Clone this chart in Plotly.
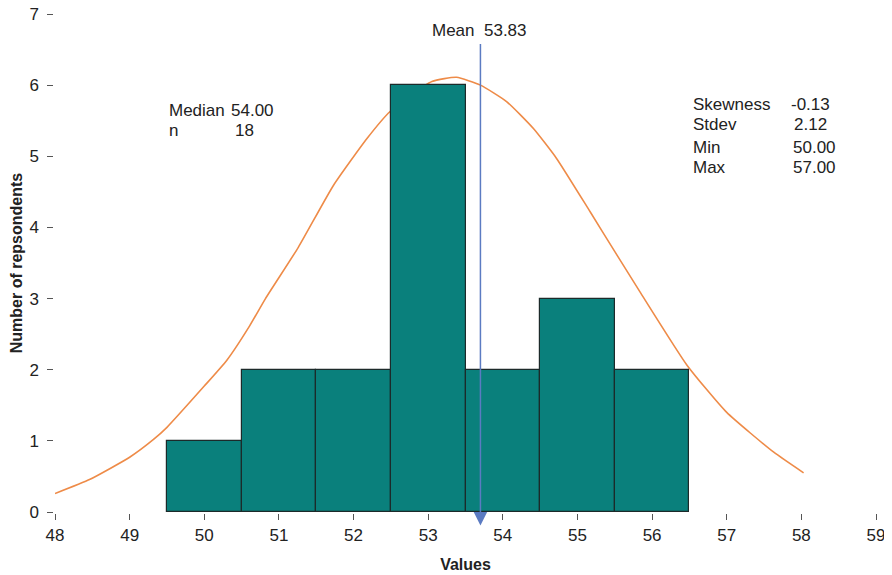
import plotly.graph_objects as go

# Histogram data
bin_centers = [50, 51, 52, 53, 54, 55, 56]
counts = [1, 2, 2, 6, 2, 3, 2]

# Fitted curve
curve_x = [48.0, 48.47, 49.0, 49.32, 49.5, 50.0, 50.3, 50.61, 50.82, 51.26, 51.73,
           52.18, 52.49, 53.05, 53.38, 53.70, 54.05, 54.41, 54.72, 55.17, 55.53, 55.84,
           56.47, 57.0, 57.63, 58.03]
curve_y = [0.26, 0.46, 0.77, 1.02, 1.19, 1.77, 2.13, 2.62, 3.0, 3.72, 4.59,
           5.25, 5.63, 6.05, 6.11, 6.0, 5.77, 5.39, 4.97, 4.22, 3.61, 3.09,
           2.06, 1.40, 0.84, 0.55]

mean_value = 53.7
mean_label = "Mean  53.83"
x_ticks = list(range(48, 60))
y_ticks = list(range(0, 8))

FONT = "Liberation Sans, Arial, Helvetica, sans-serif"
TXT = "#222222"
FS = 17

fig = go.Figure()
fig.add_trace(go.Scatter(x=curve_x, y=curve_y, mode="lines",
                         line=dict(color="#ee8b48", width=1.6, shape="spline", smoothing=0.5),
                         zorder=0, hoverinfo="skip"))
fig.add_trace(go.Bar(x=bin_centers, y=counts, width=1,
                     marker=dict(color="#0a807c", line=dict(color="#1c2a2a", width=1.2)),
                     zorder=1))

# Mean arrow
fig.add_annotation(x=mean_value, y=-0.19, ax=mean_value, ay=6.6, xref="x", yref="y",
                   axref="x", ayref="y", showarrow=True, arrowhead=2, arrowsize=1.8,
                   arrowwidth=1.5, arrowcolor="#5b7bc2", text="")
fig.add_annotation(x=53.02, y=6.77, xref="x", yref="y", text=mean_label, showarrow=False,
                   xanchor="left", yanchor="middle", font=dict(size=FS, color=TXT, family=FONT))

def txt(x, y, s, anchor="left"):
    fig.add_annotation(x=x, y=y, xref="x", yref="y", text=s, showarrow=False,
                       xanchor=anchor, yanchor="middle", font=dict(size=FS, color=TXT, family=FONT))

txt(49.50, 5.65, "Median")
txt(50.33, 5.65, "54.00")
txt(49.50, 5.36, "n")
txt(50.39, 5.36, "18")

txt(56.52, 5.73, "Skewness")
txt(57.83, 5.73, "-0.13")
txt(56.52, 5.44, "Stdev")
txt(57.88, 5.44, "2.12")
txt(56.52, 5.13, "Min")
txt(57.86, 5.13, "50.00")
txt(56.52, 4.84, "Max")
txt(57.86, 4.84, "57.00")

axis_common = dict(showgrid=False, zeroline=False, showline=True, linecolor="#555555",
                   linewidth=1.5, ticks="outside", ticklen=6, tickwidth=1.2, tickcolor="#555555",
                   tickfont=dict(size=FS, color=TXT, family=FONT), automargin=False,
                   ticklabeloverflow="allow")

fig.update_xaxes(range=[48, 59], tickvals=x_ticks, ticklabelstandoff=1, **axis_common,
                 title=dict(text="<b>Values</b>", font=dict(size=16, color=TXT, family=FONT), standoff=15))
fig.update_yaxes(range=[0, 7], tickvals=y_ticks, ticklabelstandoff=5, **axis_common,
                 title=dict(text="<b>Number of repsondents</b>", font=dict(size=16, color=TXT, family=FONT), standoff=9))

# page body has an 8px margin; size the figure so the plot area lands where the reference has it
fig.update_layout(width=884, height=567, margin=dict(l=47, r=16, t=6, b=63),
                  plot_bgcolor="white", paper_bgcolor="white", showlegend=False, bargap=0)
fig.write_html("out.html")
